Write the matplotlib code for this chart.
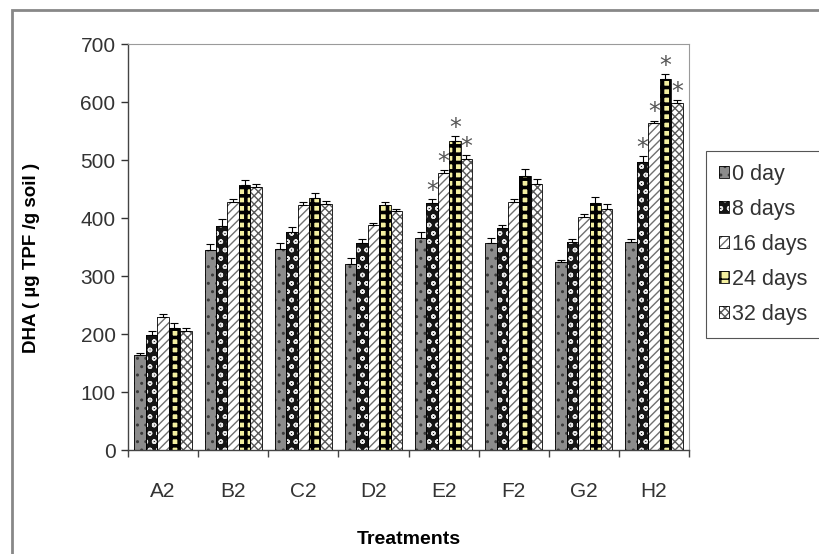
import numpy as np
import matplotlib
matplotlib.use("Agg")
import matplotlib.pyplot as plt
from matplotlib.patches import Rectangle

plt.rcParams['font.family'] = ['Liberation Sans', 'DejaVu Sans']
plt.rcParams['hatch.linewidth'] = 1.0

# DHA values (ug TPF / g soil)
treatments = ["A2", "B2", "C2", "D2", "E2", "F2", "G2", "H2"]
series_names = ["0 day", "8 days", "16 days", "24 days", "32 days"]

day0 = [163, 345, 347, 321, 366, 357, 324, 359]
day8 = [198, 386, 376, 357, 426, 383, 359, 497]
day16 = [230, 428, 422, 388, 478, 428, 402, 563]
day24 = [211, 457, 434, 422, 532, 473, 426, 640]
day32 = [205, 453, 424, 412, 501, 458, 416, 598]

err0 = [5, 10, 10, 10, 10, 8, 4, 4]
err8 = [8, 12, 8, 7, 6, 5, 5, 10]
err16 = [5, 5, 5, 4, 5, 4, 5, 5]
err24 = [8, 9, 9, 5, 9, 12, 10, 8]
err32 = [5, 5, 5, 4, 8, 10, 8, 5]

# significance stars: (treatment index, series index)
stars = [(4, 1), (4, 2), (4, 3), (4, 4), (7, 1), (7, 2), (7, 3), (7, 4)]

values = [day0, day8, day16, day24, day32]
errors = [err0, err8, err16, err24, err32]

# face colour, hatch, hatch colour, hatch line width for each series
styles = [
    ("#8c8c8c", "..", "#3a3a3a", 1.0),
    ("#151515", "oo", "#e8e8e8", 1.0),
    ("#ffffff", "////", "#707070", 1.0),
    ("#f4f0a0", "++", "#000000", 2.6),
    ("#ffffff", "xxxx", "#5a5a5a", 1.0),
]

fig = plt.figure(figsize=(8.19, 5.54), dpi=100)
ax = fig.add_axes([128 / 819, 1 - 450 / 554, (689 - 128) / 819, (450 - 44) / 554])

x = np.arange(len(treatments))
width = 0.163
handles = []
for i in range(len(values)):
    pos = x + (i - 2) * width
    face, hatch, hcol, hlw = styles[i]
    with plt.rc_context({'hatch.linewidth': hlw}):
        b1 = ax.bar(pos, values[i], width, color=face, hatch=hatch, edgecolor=hcol,
                    linewidth=0, zorder=2)
    b2 = ax.bar(pos, values[i], width, fill=False, edgecolor="black", linewidth=0.6, zorder=3)
    ax.errorbar(pos, values[i], yerr=[np.zeros(len(x)), errors[i]], fmt="none",
                ecolor="black", elinewidth=0.8, capsize=3, capthick=0.8, zorder=4)
    handles.append((b1[0], b2[0]))

for ti, si in stars:
    xs = x[ti] + (si - 2) * width
    top = values[si][ti] + errors[si][ti]
    ax.text(xs, top + 2, "*", ha="center", va="baseline", fontsize=17, color="#555555",
            family="DejaVu Sans")

ax.set_xlim(-0.5, len(treatments) - 0.5)
ax.set_ylim(0, 700)
ax.set_yticks(range(0, 701, 100))
ax.set_xticks(x)
ax.set_xticklabels(treatments)
ax.set_xticks(np.arange(-0.5, len(treatments), 1), minor=True)
ax.tick_params(axis="x", which="major", length=0, pad=23, labelsize=15, colors="#333333")
ax.tick_params(axis="x", which="minor", length=5, width=1, color="#444444")
ax.tick_params(axis="y", length=5, width=1, labelsize=15, colors="#333333", pad=4)

for s in ["top", "right"]:
    ax.spines[s].set_color("#9a9a9a")
    ax.spines[s].set_linewidth(0.8)
for s in ["left", "bottom"]:
    ax.spines[s].set_color("#444444")
    ax.spines[s].set_linewidth(1.0)

ax.set_ylabel("DHA ( \u00b5g TPF /g soil )", fontsize=13.5, fontweight="bold")
ax.yaxis.set_label_coords(-0.157, 0.473)
ax.set_xlabel("Treatments", fontsize=14, fontweight="bold")
ax.xaxis.set_label_coords(0.5, -0.2)

leg = fig.legend(handles, series_names, loc="upper left",
                 bbox_to_anchor=(706 / 819, 1 - 151 / 554), fontsize=15.5,
                 handlelength=0.45, handleheight=0.45, handletextpad=0.15,
                 labelspacing=0.65, borderpad=0.6, borderaxespad=0, fancybox=False,
                 framealpha=1, edgecolor="#555555", labelcolor="#333333")
leg.get_frame().set_linewidth(0.8)

# outer grey frame of the chart object
fig.add_artist(Rectangle((12 / 819, -0.1), 1.0, 1 - 10 / 554 + 0.1, transform=fig.transFigure,
                         fill=False, edgecolor="#888888", linewidth=2, clip_on=False))

fig.savefig("out.png", dpi=100)
